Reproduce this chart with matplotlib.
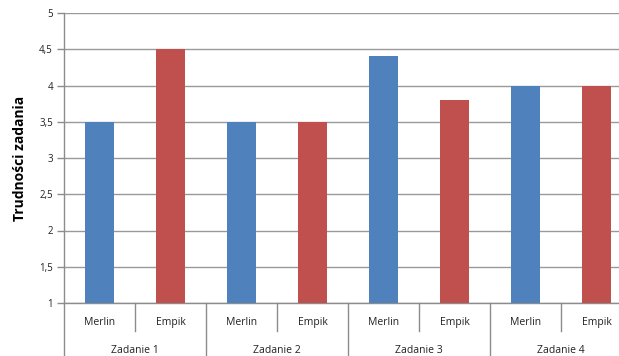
import matplotlib.pyplot as plt
import matplotlib.transforms as mtransforms
import numpy as np

plt.rcParams['font.family'] = ['Open Sans', 'DejaVu Sans']

shops = ['Merlin', 'Empik', 'Merlin', 'Empik', 'Merlin', 'Empik', 'Merlin', 'Empik']
tasks = ['Zadanie 1', 'Zadanie 2', 'Zadanie 3', 'Zadanie 4']
values = [3.5, 4.5, 3.5, 3.5, 4.4, 3.8, 4.0, 4.0]
colors = ['#4F81BD', '#C0504D'] * 4

fig = plt.figure(figsize=(6.19, 3.56), dpi=100)
ax = fig.add_axes([64 / 619, 53 / 356, 568 / 619, 290 / 356])

x = np.arange(len(values))
ax.bar(x, np.array(values) - 1, bottom=1, width=0.4, color=colors, zorder=3)

ax.set_xlim(-0.5, len(values) - 0.5)
ax.set_ylim(1, 5)
yt = np.arange(1, 5.01, 0.5)
ax.set_yticks(yt)
ax.set_yticklabels([('%g' % v).replace('.', ',') for v in yt], fontsize=7, color='#222222')
ax.yaxis.grid(True, color='#999999', linewidth=1, zorder=0)
ax.tick_params(axis='y', length=5, width=1, color='#8c8c8c', pad=3)
ax.set_xticks([])
for s in ['top', 'right']:
    ax.spines[s].set_visible(False)
for s in ['left', 'bottom']:
    ax.spines[s].set_color('#8c8c8c')
    ax.spines[s].set_linewidth(1)

ax.set_ylabel('Trudności zadania', fontsize=10, fontweight='bold', labelpad=9)

trans = mtransforms.blended_transform_factory(ax.transData, ax.transAxes)
for i, name in enumerate(shops):
    ax.text(i, -0.068, name, transform=trans, ha='center', va='center', fontsize=7.5, color='#222222')
for j, name in enumerate(tasks):
    ax.text(2 * j + 0.5, -0.165, name, transform=trans, ha='center', va='center', fontsize=7.5, color='#222222')
for k in range(len(values) + 1):
    low = -0.19 if k % 2 == 0 else -0.095
    ax.plot([k - 0.5, k - 0.5], [0, low], transform=trans, color='#8c8c8c', linewidth=1, clip_on=False)

fig.savefig('out.png', dpi=100)
